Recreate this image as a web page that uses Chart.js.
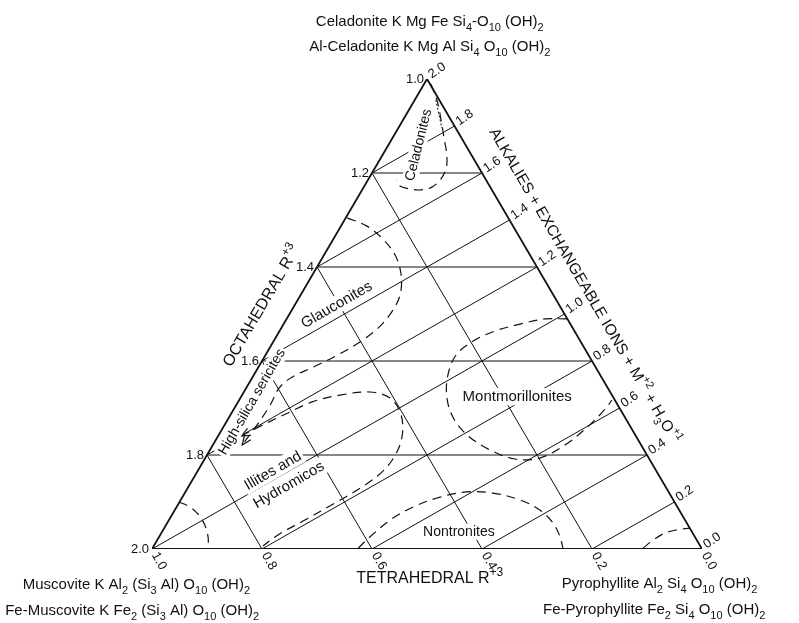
<!DOCTYPE html>
<html>
<head>
<meta charset="utf-8">
<script src="https://cdn.jsdelivr.net/npm/chart.js@4.4.0/dist/chart.umd.min.js"></script>
<style>
body { margin: 0; background: #fff; }
canvas { display: block; }
</style>
</head>
<body>
<canvas id="chart" width="799" height="623"></canvas>
<script>
// tick values on the three sides
var octaTicks = [1.0, 1.2, 1.4, 1.6, 1.8, 2.0]
var alkaliTicks = [2.0, 1.8, 1.6, 1.4, 1.2, 1.0, 0.8, 0.6, 0.4, 0.2, 0.0]
var tetraTicks = [1.0, 0.8, 0.6, 0.4, 0.2, 0.0]

// field outlines as [tetrahedral position, alkali level]
// (x: 1 at the muscovite corner, 0 at pyrophyllite; y: 0 at base, 2 at apex)
var celadonites = [[0.493,1.979],[0.482,1.911],[0.475,1.834],[0.469,1.749],[0.464,1.677],[0.465,1.621],[0.475,1.574],[0.491,1.540],[0.511,1.528],[0.531,1.532],[0.549,1.545],[0.555,1.570]]
var celadoniteCore = [[0.484,1.911],[0.473,1.791]]
var glauconites = [[0.645,1.409],[0.609,1.374],[0.582,1.323],[0.558,1.251],[0.547,1.166],[0.549,1.081],[0.564,1.009],[0.589,0.940],[0.622,0.881],[0.662,0.826],[0.707,0.774],[0.745,0.732],[0.769,0.685],[0.785,0.613],[0.809,0.528],[0.836,0.443]]
var illites = [[0.838,0.481],[0.795,0.532],[0.749,0.583],[0.709,0.626],[0.658,0.655],[0.604,0.668],[0.567,0.643],[0.549,0.583],[0.544,0.506],[0.553,0.421],[0.578,0.336],[0.618,0.264],[0.667,0.196],[0.722,0.123],[0.771,0.060],[0.798,0.013]]
var montmorillonites = [[0.245,0.979],[0.285,0.979],[0.331,0.957],[0.376,0.928],[0.416,0.885],[0.447,0.826],[0.462,0.740],[0.464,0.647],[0.453,0.562],[0.427,0.485],[0.385,0.421],[0.340,0.383],[0.295,0.387],[0.249,0.443],[0.204,0.528],[0.173,0.604],[0.164,0.634]]
var nontronites = [[0.625,0.004],[0.604,0.051],[0.567,0.123],[0.525,0.179],[0.476,0.221],[0.427,0.243],[0.380,0.238],[0.331,0.209],[0.295,0.166],[0.271,0.111],[0.258,0.051],[0.253,0.004]]
var muscoviteCorner = [[0.951,0.200],[0.931,0.179],[0.915,0.145],[0.904,0.102],[0.898,0.051],[0.898,0.004]]
var pyrophylliteCorner = [[0.107,0.004],[0.091,0.034],[0.071,0.064],[0.047,0.081],[0.022,0.089]]

var fieldNames = ['Celadonites', 'Glauconites', 'High-silica sericites', 'Illites and', 'Hydromicos', 'Montmorillonites', 'Nontronites']
var axisTitles = ['OCTAHEDRAL R^{+3}', 'ALKALIES + EXCHANGEABLE IONS + M^{+2} + H_{3}O^{+1}', 'TETRAHEDRAL R^{+3}']
var topMembers = ['Celadonite K Mg Fe Si_{4}-O_{10} (OH)_{2}', 'Al-Celadonite K Mg Al Si_{4} O_{10} (OH)_{2}']
var leftMembers = ['Muscovite K Al_{2} (Si_{3} Al) O_{10} (OH)_{2}', 'Fe-Muscovite K Fe_{2} (Si_{3} Al) O_{10} (OH)_{2}']
var rightMembers = ['Pyrophyllite Al_{2} Si_{4} O_{10} (OH)_{2}', 'Fe-Pyrophyllite Fe_{2} Si_{4} O_{10} (OH)_{2}']

// where the labels sit: [x, y, angle in degrees, font size]
var fieldAt = [[0.515,1.719,-76,14],[0.664,1.038,-30,15],[0.818,0.626,-60,14],[0.780,0.332,-30,15],[0.751,0.272,-30,15],[0.336,0.647,0,15],[0.442,0.072,0,14]]

var FONT = '"Liberation Sans", Arial, sans-serif'

// corners of the triangle in chart units
function octaPoint(v) { var f = v - 1; return {x: 0.5 + 0.5 * f, y: 2 * (1 - f)} }
function alkaliPoint(v) { return {x: v / 2 * 0.5, y: v} }
function tetraPoint(v) { return {x: v, y: 0} }
function pts(arr) { return arr.map(function(p) { return {x: p[0], y: p[1]} }) }

function lineSet(data, opts) {
    var ds = {data: data, showLine: true, pointRadius: 0, borderColor: '#111', borderWidth: 1, tension: 0, fill: false}
    for (var k in opts) ds[k] = opts[k]
    return ds
}

var datasets = []
// outline
datasets.push(lineSet([tetraPoint(1), tetraPoint(0), alkaliPoint(2), tetraPoint(1)], {borderWidth: 1.8}))
// horizontal lines, octahedral tick to alkali tick
for (let i = 1; i < octaTicks.length - 1; i++)
    datasets.push(lineSet([octaPoint(octaTicks[i]), alkaliPoint(2 * (2 - octaTicks[i]))]))
// lines square to the alkali side
for (let i = 1; i < alkaliTicks.length - 1; i++) {
    let v = alkaliTicks[i]
    datasets.push(lineSet([alkaliPoint(v), v >= 1 ? octaPoint(3 - v) : tetraPoint(v)]))
}
// lines parallel to the alkali side
for (let i = 1; i < tetraTicks.length - 1; i++)
    datasets.push(lineSet([tetraPoint(tetraTicks[i]), octaPoint(1 + tetraTicks[i])]))

var dash = [9, 6]
datasets.push(lineSet(pts(celadonites), {borderDash: dash, borderWidth: 1.2, tension: 0.35}))
datasets.push(lineSet(pts(celadoniteCore), {borderDash: [2, 2], borderWidth: 1}))
datasets.push(lineSet(pts(glauconites), {borderDash: dash, borderWidth: 1.2, tension: 0.35, arrow: 'end'}))
datasets.push(lineSet(pts(illites), {borderDash: dash, borderWidth: 1.2, tension: 0.35, arrow: 'start'}))
datasets.push(lineSet(pts(montmorillonites), {borderDash: dash, borderWidth: 1.2, tension: 0.35}))
datasets.push(lineSet(pts(nontronites), {borderDash: dash, borderWidth: 1.2, tension: 0.35}))
datasets.push(lineSet(pts(muscoviteCorner), {borderDash: dash, borderWidth: 1.2, tension: 0.35}))
datasets.push(lineSet(pts(pyrophylliteCorner), {borderDash: dash, borderWidth: 1.2, tension: 0.35}))

function parseRich(s) {
    var parts = [], re = /([_^])\{([^}]*)\}/g, last = 0, m
    while ((m = re.exec(s))) {
        if (m.index > last) parts.push([s.slice(last, m.index), 0])
        parts.push([m[2], m[1] === '_' ? 1 : -1])
        last = re.lastIndex
    }
    if (last < s.length) parts.push([s.slice(last), 0])
    return parts
}

function drawRich(ctx, s, x, y, size, align, bg) {
    var parts = parseRich(s), small = Math.round(size * 0.72), w = 0
    parts.forEach(function(p) {
        ctx.font = (p[1] ? small : size) + 'px ' + FONT
        p.push(ctx.measureText(p[0]).width)
        w += p[2]
    })
    var x0 = align === 'center' ? x - w / 2 : align === 'right' ? x - w : x
    if (bg) {
        ctx.fillStyle = '#fff'
        ctx.fillRect(x0 - 2, y - size * 0.6, w + 4, size * 1.15)
    }
    ctx.fillStyle = '#111'
    ctx.textBaseline = 'middle'
    ctx.textAlign = 'left'
    parts.forEach(function(p) {
        ctx.font = (p[1] ? small : size) + 'px ' + FONT
        ctx.fillText(p[0], x0, y + (p[1] === 1 ? size * 0.38 : p[1] === -1 ? -size * 0.4 : 0))
        x0 += p[2]
    })
}

function drawTurned(ctx, s, x, y, deg, size, align, bg, dx, dy) {
    ctx.save()
    ctx.translate(x, y)
    ctx.rotate(deg * Math.PI / 180)
    drawRich(ctx, s, dx || 0, dy || 0, size, align, bg)
    ctx.restore()
}

var textPlugin = {
    id: 'texts',
    afterDatasetsDraw(chart) {
        var ctx = chart.ctx, xs = chart.scales.x, ys = chart.scales.y
        function px(p) { return [xs.getPixelForValue(p.x), ys.getPixelForValue(p.y)] }

        // arrow heads
        chart.data.datasets.forEach(function(ds, i) {
            if (!ds.arrow) return
            var el = chart.getDatasetMeta(i).data
            var tip = ds.arrow === 'start' ? el[0] : el[el.length - 1]
            var prev = ds.arrow === 'start' ? el[1] : el[el.length - 2]
            var a = Math.atan2(tip.y - prev.y, tip.x - prev.x)
            ctx.save()
            ctx.strokeStyle = '#111'
            ctx.lineWidth = 1.2
            ctx.beginPath()
            ctx.moveTo(tip.x - 10 * Math.cos(a - 0.4), tip.y - 10 * Math.sin(a - 0.4))
            ctx.lineTo(tip.x, tip.y)
            ctx.lineTo(tip.x - 10 * Math.cos(a + 0.4), tip.y - 10 * Math.sin(a + 0.4))
            ctx.stroke()
            ctx.restore()
        })

        // tick labels
        octaTicks.forEach(function(v) {
            var p = px(octaPoint(v))
            drawRich(ctx, v.toFixed(1), p[0] - 3, p[1], 13, 'right')
        })
        alkaliTicks.forEach(function(v) {
            var p = px(alkaliPoint(v))
            drawTurned(ctx, v.toFixed(1), p[0], p[1], -35, 13, 'left', false, 4, -1)
        })
        tetraTicks.forEach(function(v) {
            var p = px(tetraPoint(v))
            drawTurned(ctx, v.toFixed(1), p[0], p[1], 60, 13, 'left', false, 5, 0)
        })

        // field names
        fieldNames.forEach(function(name, i) {
            var f = fieldAt[i], p = px({x: f[0], y: f[1]})
            drawTurned(ctx, name, p[0], p[1], f[2], f[3], 'center', true)
        })

        // axis titles, turned along their sides
        var L = px(tetraPoint(1)), R = px(tetraPoint(0)), A = px(alkaliPoint(2))
        var leftDeg = Math.atan2(A[1] - L[1], A[0] - L[0]) * 180 / Math.PI
        var rightDeg = Math.atan2(R[1] - A[1], R[0] - A[0]) * 180 / Math.PI
        var p = px({x: 0.8, y: 1.034})
        drawTurned(ctx, axisTitles[0], p[0], p[1], leftDeg, 16, 'center')
        p = px({x: 0.214, y: 1.119})
        drawTurned(ctx, axisTitles[1], p[0], p[1], rightDeg, 15.5, 'center')
        p = px({x: 0.495, y: -0.127})
        drawRich(ctx, axisTitles[2], p[0], p[1], 16, 'center')

        // end members at the corners
        p = px({x: 0.495, y: 2.243})
        drawRich(ctx, topMembers[0], p[0], p[1], 15, 'center')
        p = px({x: 0.495, y: 2.136})
        drawRich(ctx, topMembers[1], p[0], p[1], 15, 'center')
        p = px({x: 1.235, y: -0.153})
        drawRich(ctx, leftMembers[0], p[0], p[1], 15, 'left')
        p = px({x: 1.267, y: -0.264})
        drawRich(ctx, leftMembers[1], p[0], p[1], 15, 'left')
        p = px({x: 0.255, y: -0.149})
        drawRich(ctx, rightMembers[0], p[0], p[1], 15, 'left')
        p = px({x: 0.289, y: -0.260})
        drawRich(ctx, rightMembers[1], p[0], p[1], 15, 'left')
    }
}

new Chart(document.getElementById('chart').getContext('2d'), {
    type: 'scatter',
    data: {datasets: datasets},
    options: {
        responsive: false,
        animation: false,
        layout: {padding: {left: 152, right: 97, top: 79, bottom: 74}},
        plugins: {legend: {display: false}, tooltip: {enabled: false}},
        scales: {
            x: {type: 'linear', reverse: true, min: 0, max: 1, display: false},
            y: {type: 'linear', min: 0, max: 2, display: false}
        }
    },
    plugins: [textPlugin]
})
</script>
</body>
</html>
